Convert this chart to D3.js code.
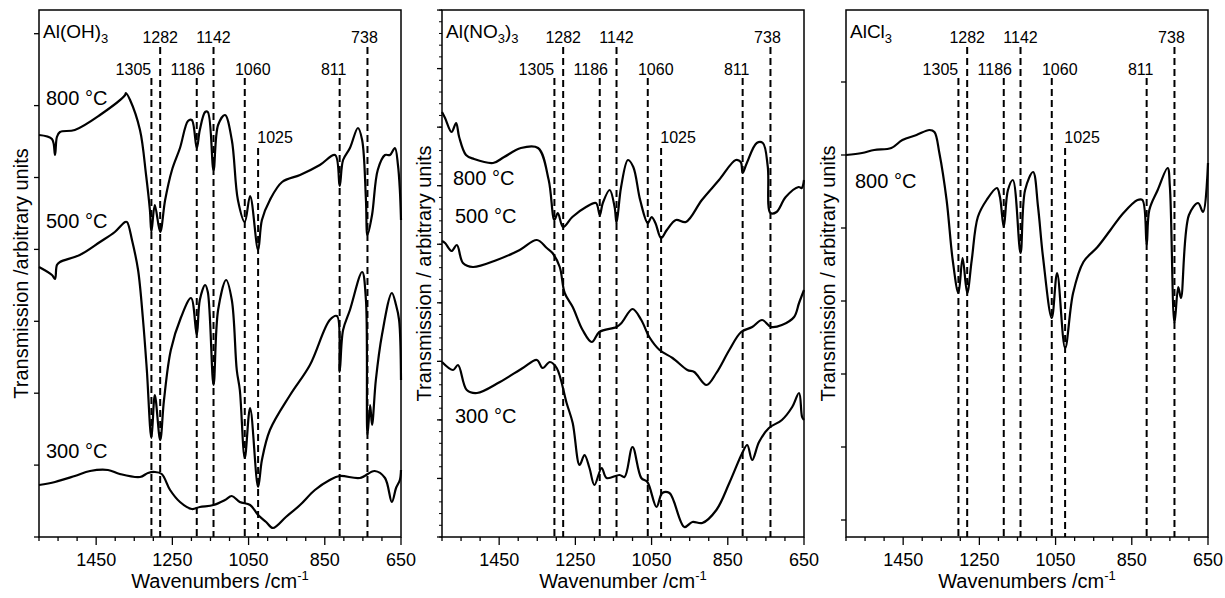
<!DOCTYPE html>
<html>
<head>
<meta charset="utf-8">
<script src="https://cdn.jsdelivr.net/npm/d3@7"></script>
<style>
  body { margin: 0; background: #fff; }
  text { font-family: "Liberation Sans", Arial, sans-serif; fill: #000; }
</style>
</head>
<body>
<svg width="1225" height="598"></svg>
<script>
// wavenumber (cm-1), transmission (arbitrary units)
let ohx800 = [1600,1566,1558,1553,1545,1506,1440,1374,1372,1361,1335,1319,1309,1305,1296,1282,1269,1251,1230,1209,1199,1186,1178,1164,1157,1142,1130,1112,1094,1078,1060,1046,1025,1015,994,962,915,863,823,811,802,784,763,752,742,738,726,711,692,679,666,658,653,650];
let ohy800 = [402,398,382,400,405,407,422,442,444,437,407,362,327,305,332,305,337,367,389,416,417,389,407,425,425,367,412,422,397,337,315,341,287,317,337,355,362,372,382,351,377,389,409,397,337,302,322,367,382,382,389,372,347,317];
let ohx500 = [1600,1566,1558,1553,1545,1493,1440,1401,1374,1369,1356,1340,1327,1317,1305,1296,1282,1272,1254,1228,1201,1186,1178,1164,1157,1142,1130,1109,1094,1081,1073,1060,1046,1025,1015,994,941,889,837,818,811,802,784,752,742,738,731,726,716,700,674,663,655,650];
let ohy500 = [270,262,258,272,275,282,295,305,315,315,297,267,217,167,99,142,97,137,187,219,239,202,237,252,245,152,227,257,237,167,147,79,129,50,77,107,142,172,217,221,165,207,227,265,237,102,132,112,157,202,244,232,217,157];
let ohx300 = [1600,1558,1506,1466,1419,1388,1335,1314,1296,1278,1256,1230,1199,1178,1142,1112,1094,1073,1046,1025,1004,986,952,915,876,837,811,758,719,692,674,663,653,650];
let ohy300 = [52,55,61,66,67,63,60,64,65,63,47,35,28,30,32,37,41,35,32,22,15,9,20,32,47,57,61,59,66,59,35,49,57,67];

let nox800 = [1600,1592,1575,1563,1555,1537,1516,1466,1437,1393,1348,1320,1305,1296,1282,1258,1222,1196,1186,1178,1160,1147,1142,1130,1112,1098,1080,1060,1050,1040,1025,1010,986,960,918,873,829,816,811,800,774,758,745,738,722,698,664,656,650];
let noy800 = [425,419,405,414,400,382,378,374,380,389,389,357,317,324,310,320,330,334,322,334,347,330,314,350,377,370,337,314,320,314,299,307,317,315,337,357,377,375,364,374,394,394,370,324,325,340,350,349,357];
let nox500 = [1600,1592,1575,1561,1545,1519,1456,1396,1351,1325,1310,1291,1278,1257,1231,1207,1187,1142,1129,1100,1077,1056,1029,995,956,938,906,880,846,815,786,760,736,708,676,663,650];
let noy500 = [296,294,286,292,274,270,277,287,297,289,284,270,244,230,207,195,205,210,214,228,217,200,187,179,167,165,152,164,187,205,210,217,210,212,220,234,247];
let nox300 = [1600,1571,1558,1535,1508,1448,1388,1351,1336,1317,1299,1273,1257,1239,1226,1213,1200,1181,1168,1134,1121,1100,1077,1061,1037,1022,1003,964,943,917,880,846,812,799,786,768,742,708,681,663,655,650];
let noy300 = [175,167,172,147,144,155,169,177,169,175,169,134,114,72,82,69,52,69,59,62,60,90,59,55,30,44,44,10,15,14,27,54,84,92,77,95,109,117,130,144,120,117];

let clx800 = [1600,1558,1526,1481,1452,1415,1381,1368,1355,1336,1320,1305,1294,1282,1270,1254,1231,1204,1196,1186,1175,1162,1142,1130,1109,1096,1083,1060,1046,1025,1004,977,940,906,872,835,822,811,804,782,756,750,738,728,721,700,676,663,650];
let cly800 = [382,384,387,389,397,402,407,405,384,337,277,244,279,244,277,320,337,349,340,310,347,357,284,347,365,330,280,219,264,189,244,275,290,307,324,337,337,292,327,347,369,350,214,250,239,322,334,325,374];

let peaks = [1305,1282,1186,1142,1060,1025,811,738];
let peakLabels = ["1305","1282","1186","1142","1060","1025","811","738"];
let xTicks = [1450,1250,1050,850,650];

let panels = [
  { left: 39, title: ["Al(OH)", "3", ""], xTitle: "Wavenumbers /cm", yTitle: "Transmission /arbitrary units",
    series: [[ohx800, ohy800], [ohx500, ohy500], [ohx300, ohy300]],
    temps: [["800 °C", 46, 105], ["500 °C", 46, 228], ["300 °C", 46, 458]],
    yStep: 71.9, yStart: 0, minor: 0 },
  { left: 442, title: ["Al(NO", "3", ")", "3"], xTitle: "Wavenumber /cm", yTitle: "Transmission / arbitrary units",
    series: [[nox800, noy800], [nox500, noy500], [nox300, noy300]],
    temps: [["800 °C", 453, 185], ["500 °C", 455, 223], ["300 °C", 455, 423]],
    yStep: 58.55, yStart: 0, minor: 5 },
  { left: 846, title: ["AlCl", "3"], xTitle: "Wavenumbers /cm", yTitle: "Transmission / arbitrary units",
    series: [[clx800, cly800]],
    temps: [["800 °C", 855, 188]],
    yStep: 73, yStart: 17, minor: 0 }
];

let svg = d3.select("svg");
let plotTop = 10, plotBottom = 537, w = 362;
// label row, label dx
let labelRow = [1, 0, 1, 0, 1, 2, 1, 0];
let labelDx = [-18, 0, -9, 0, 8, 17, -6, -3];
let rowBase = [43, 75, 143];
let rowLine = [47, 78, 148];

panels.forEach(p => {
  let x = d3.scaleLinear().domain([1600, 650]).range([p.left, p.left + w]);
  let y = d3.scaleLinear().domain([0, plotBottom - plotTop]).range([plotBottom, plotTop]);
  let g = svg.append("g");

  // y ticks
  let yt = d3.range(p.yStart, plotBottom - plotTop + 1, p.yStep);
  g.selectAll(".yt").data(yt).enter().append("line")
    .attr("x1", p.left - 5).attr("x2", p.left)
    .attr("y1", d => y(d)).attr("y2", d => y(d))
    .attr("stroke", "#000").attr("stroke-width", 1.3);
  if (p.minor) {
    let ym = d3.range(0, plotBottom - plotTop, p.yStep / p.minor);
    g.selectAll(".ym").data(ym).enter().append("line")
      .attr("x1", p.left - 3).attr("x2", p.left)
      .attr("y1", d => y(d)).attr("y2", d => y(d))
      .attr("stroke", "#000").attr("stroke-width", 1);
  }

  // x ticks
  let minorX = d3.range(1600, 649, -50);
  g.selectAll(".xm").data(minorX).enter().append("line")
    .attr("x1", d => x(d)).attr("x2", d => x(d))
    .attr("y1", plotBottom).attr("y2", d => plotBottom + (xTicks.includes(d) ? 8 : 4))
    .attr("stroke", "#000").attr("stroke-width", 1.3);
  g.selectAll(".xl").data(xTicks).enter().append("text")
    .attr("x", d => x(d)).attr("y", 566)
    .attr("text-anchor", "middle").style("font-size", "18px")
    .text(d => d);

  // peak dashed lines and labels
  peaks.forEach((pk, i) => {
    let r = labelRow[i];
    g.append("line")
      .attr("x1", x(pk)).attr("x2", x(pk))
      .attr("y1", rowLine[r]).attr("y2", plotBottom)
      .attr("stroke", "#000").attr("stroke-width", 2)
      .attr("stroke-dasharray", "7,4");
    g.append("text")
      .attr("x", x(pk) + labelDx[i]).attr("y", rowBase[r])
      .attr("text-anchor", "middle").style("font-size", "16px")
      .text(peakLabels[i]);
  });

  // spectra
  let line = d3.line().x(d => x(d[0])).y(d => y(d[1])).curve(d3.curveCatmullRom.alpha(0.5));
  p.series.forEach(s => {
    let pts = s[0].map((v, i) => [v, s[1][i]]);
    g.append("path").attr("d", line(pts))
      .attr("fill", "none").attr("stroke", "#000").attr("stroke-width", 2.2)
      .attr("stroke-linejoin", "round");
  });

  // frame
  g.append("rect").attr("x", p.left).attr("y", plotTop).attr("width", w).attr("height", plotBottom - plotTop)
    .attr("fill", "none").attr("stroke", "#000").attr("stroke-width", 1.5);

  // title with subscripts
  let t = g.append("text").attr("x", p.left + 4).attr("y", 38).style("font-size", "19px");
  p.title.forEach((s, i) => {
    t.append("tspan").text(s)
      .attr("dy", i === 0 ? 0 : (i % 2 ? 5 : -5))
      .style("font-size", i % 2 ? "13px" : "19px");
  });

  p.temps.forEach(tp => {
    g.append("text").attr("x", tp[1]).attr("y", tp[2]).style("font-size", "20px").text(tp[0]);
  });

  // axis titles
  let xt = g.append("text")
    .attr("x", p.left + w / 2).attr("y", 588).attr("text-anchor", "middle").style("font-size", "20px");
  xt.append("tspan").text(p.xTitle);
  xt.append("tspan").text("-1").attr("dy", -8).style("font-size", "13px");

  g.append("text")
    .attr("transform", `translate(${p.left - 11},${(plotTop + plotBottom) / 2}) rotate(-90)`)
    .attr("text-anchor", "middle").style("font-size", "20px")
    .text(p.yTitle);
});
</script>
</body>
</html>
